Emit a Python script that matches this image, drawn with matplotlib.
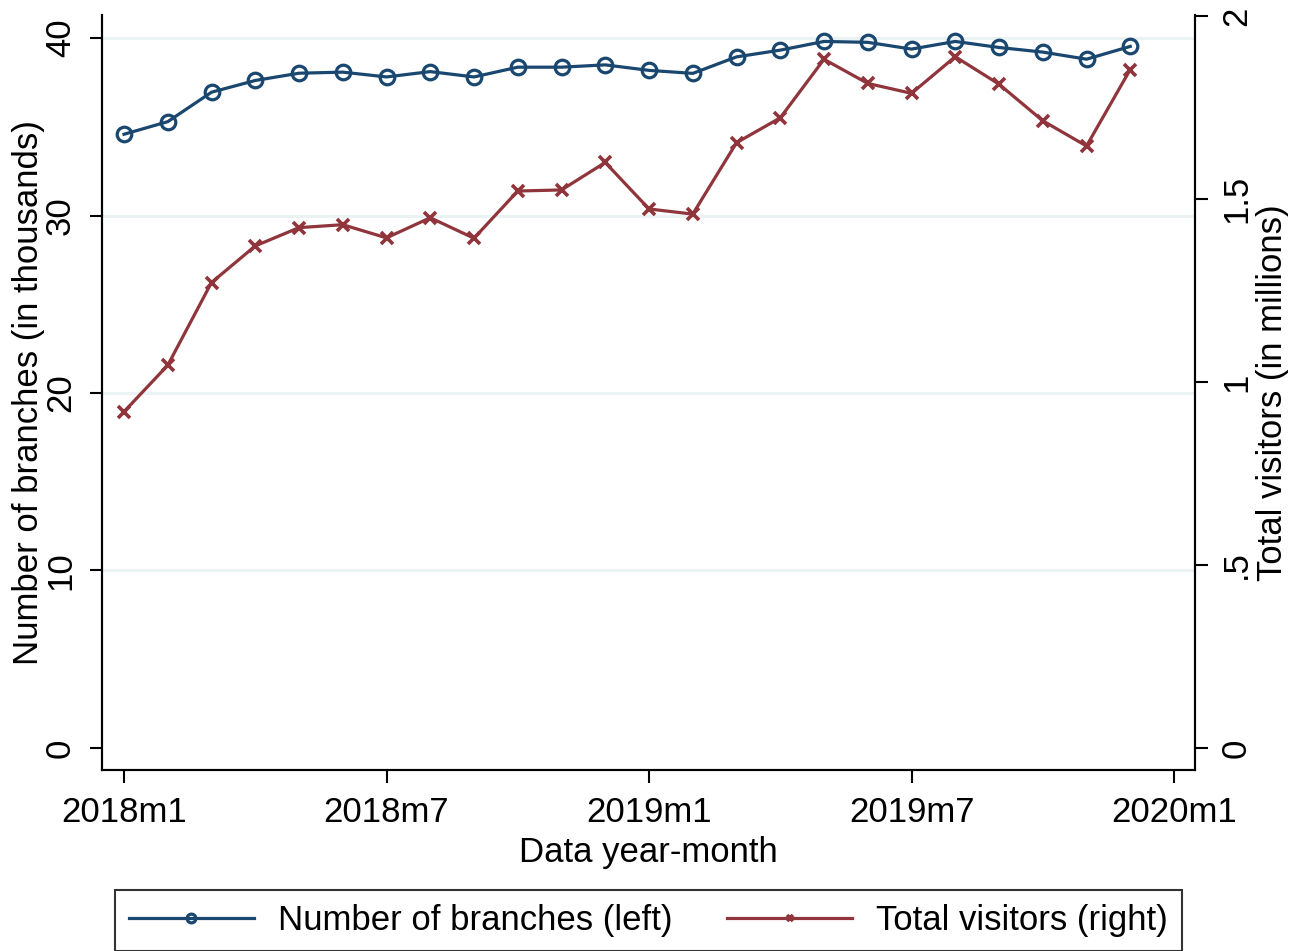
import matplotlib
matplotlib.use('Agg')
import matplotlib.pyplot as plt
import numpy as np

plt.rcParams['font.family'] = ['Liberation Sans', 'DejaVu Sans']

# months since 2018m1
months = np.arange(24)
# number of branches, thousands (left axis)
branches = [34.58, 35.29, 36.95, 37.61, 38.02, 38.08, 37.81, 38.11,
            37.81, 38.36, 38.36, 38.49, 38.18, 38.01, 38.94, 39.32,
            39.81, 39.76, 39.38, 39.81, 39.47, 39.21, 38.81, 39.53]
# total visitors, millions (right axis)
visitors = [0.919, 1.046, 1.272, 1.372, 1.422, 1.430, 1.394, 1.449,
            1.393, 1.522, 1.525, 1.600, 1.473, 1.459, 1.654, 1.722,
            1.882, 1.816, 1.789, 1.889, 1.814, 1.714, 1.645, 1.854]

xticks = [0, 6, 12, 18, 24]
xticklabels = ['2018m1', '2018m7', '2019m1', '2019m7', '2020m1']
left_ticks = [0, 10, 20, 30, 40]
right_ticks = [0, 0.5, 1, 1.5, 2]
right_labels = ['0', '.5', '1', '1.5', '2']

navy = '#1a476f'
maroon = '#90353b'
fs = 25

fig = plt.figure(figsize=(13, 9.51), dpi=100)
ax = fig.add_axes([102/1300, 1 - 770/951, 1093/1300, 755/951])
ax2 = ax.twinx()

# gridlines on left axis ticks
for t in left_ticks[1:]:
    ax.axhline(t, color='#eaf2f3', lw=2.2, zorder=0)

l1, = ax.plot(months, branches, color=navy, lw=2.3, marker='o', ms=10.5,
              mfc='none', mec=navy, mew=2.3, label='Number of branches (left)')
l2, = ax2.plot(months, visitors, color=maroon, lw=2.3, marker='x', ms=8,
               mec=maroon, mew=2.6, label='Total visitors (right)')

ax.set_xlim(-0.503, 24.48)
ax.set_ylim(-1.243, 41.3)
ax2.set_ylim(-0.060, 2.003)

ax.set_xticks(xticks)
ax.set_xticklabels(xticklabels, fontsize=fs)
ax.set_yticks(left_ticks)
ax.set_yticklabels([str(t) for t in left_ticks], fontsize=fs, rotation=90, va='center')
ax2.set_yticks(right_ticks)
ax2.set_yticklabels(right_labels, fontsize=fs, rotation=90, va='center')

for a in (ax, ax2):
    a.spines['top'].set_visible(False)
    for s in ('left', 'right', 'bottom'):
        a.spines[s].set_linewidth(1.5)
    a.tick_params(axis='both', length=9, width=1.5, pad=9)
ax.tick_params(axis='x', pad=10)

ax.set_xlabel('Data year-month', fontsize=fs)
ax.xaxis.set_label_coords(0.5, -0.087)
ax.set_ylabel('Number of branches (in thousands)', fontsize=fs)
ax.yaxis.set_label_coords(-0.052, 0.5)
ax2.set_ylabel('Total visitors (in millions)', fontsize=fs, rotation=90)
ax2.yaxis.set_label_coords(1.056, 0.5)

leg = fig.legend(handles=[l1, l2], loc='lower left', ncol=2,
                 bbox_to_anchor=(115/1300, 0.0, 1067/1300, 65/951), mode='expand',
                 fontsize=fs, frameon=True, fancybox=False, edgecolor='black',
                 handlelength=3.6, markerscale=0.6, borderaxespad=0.0,
                 handletextpad=0.7, columnspacing=2.0)
leg.get_frame().set_linewidth(1.5)

fig.savefig('out.png', dpi=100)
